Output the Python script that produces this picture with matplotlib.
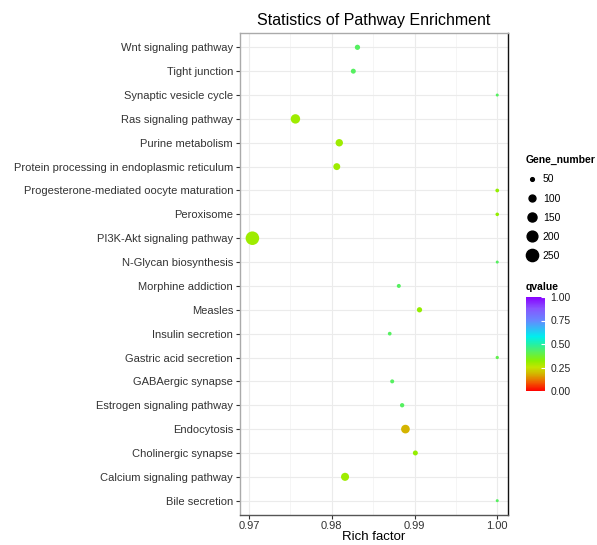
import matplotlib
matplotlib.use('Agg')
import matplotlib.pyplot as plt
import numpy as np
from matplotlib.colors import LinearSegmentedColormap, Normalize
from matplotlib.lines import Line2D

plt.rcParams['font.family'] = ['Liberation Sans', 'DejaVu Sans']

# pathways listed top to bottom
pathways = ['Wnt signaling pathway', 'Tight junction', 'Synaptic vesicle cycle',
            'Ras signaling pathway', 'Purine metabolism',
            'Protein processing in endoplasmic reticulum',
            'Progesterone-mediated oocyte maturation', 'Peroxisome',
            'PI3K-Akt signaling pathway', 'N-Glycan biosynthesis',
            'Morphine addiction', 'Measles', 'Insulin secretion',
            'Gastric acid secretion', 'GABAergic synapse',
            'Estrogen signaling pathway', 'Endocytosis', 'Cholinergic synapse',
            'Calcium signaling pathway', 'Bile secretion']
rich_factor = [0.9831, 0.9826, 1.0, 0.9756, 0.9809, 0.9806, 1.0, 1.0, 0.9704, 1.0,
               0.9881, 0.9906, 0.9870, 1.0, 0.9873, 0.9885, 0.9889, 0.9901,
               0.9816, 1.0]
gene_number = [70, 66, 40, 160, 110, 100, 50, 48, 300, 37,
               53, 70, 50, 45, 53, 57, 140, 66, 125, 40]
qvalue = [0.42, 0.42, 0.42, 0.30, 0.30, 0.30, 0.31, 0.31, 0.30, 0.42,
          0.42, 0.31, 0.42, 0.40, 0.42, 0.42, 0.18, 0.31, 0.30, 0.42]
size_breaks = [50, 100, 150, 200, 250]

cmap = LinearSegmentedColormap.from_list('rb', [
    (0.00, '#FF0000'), (0.10, '#EE6600'), (0.18, '#D4B400'), (0.25, '#C4E400'),
    (0.32, '#8CF000'), (0.42, '#55F060'), (0.50, '#22F0A8'), (0.58, '#00EEEE'),
    (0.75, '#6688FF'), (0.88, '#8855FF'), (1.00, '#8800FF')])
norm = Normalize(0, 1)


def point_size(v):
    # area grows linearly with gene count; diameter in pixels -> points^2
    d = np.sqrt(np.maximum(0.68 * np.asarray(v, float) - 20, 9))
    return (d * 0.72) ** 2


fig = plt.figure(figsize=(5.97, 5.45), dpi=100)
ax = fig.add_axes([240 / 597, 1 - 515 / 545, 268 / 597, 482 / 545])

ypos = np.arange(len(pathways))[::-1]
ax.scatter(rich_factor, ypos, s=point_size(gene_number), c=qvalue, cmap=cmap,
           norm=norm, linewidths=0, zorder=3)

ax.set_xlim(0.9689, 1.0013)
ax.set_ylim(-0.6, len(pathways) - 0.4)
ax.set_xticks([0.97, 0.98, 0.99, 1.00])
ax.set_xticklabels(['0.97', '0.98', '0.99', '1.00'])
ax.set_xticks([0.975, 0.985, 0.995], minor=True)
ax.set_yticks(ypos)
ax.set_yticklabels(pathways)
ax.grid(True, which='major', color='#EBEBEB', linewidth=0.8, zorder=0)
ax.grid(True, which='minor', axis='x', color='#F4F4F4', linewidth=0.6, zorder=0)
ax.tick_params(axis='both', which='major', labelsize=8.05, labelcolor='#333333',
               color='#333333', length=3, width=0.8, pad=2)
ax.tick_params(axis='x', which='major', pad=1)
ax.tick_params(axis='x', which='minor', length=0)
for side, col in [('left', '#AAAAAA'), ('top', '#AAAAAA'),
                  ('right', '#111111'), ('bottom', '#555555')]:
    ax.spines[side].set_color(col)
    ax.spines[side].set_linewidth(1.0)

ax.set_xlabel('Rich factor', fontsize=9.5, labelpad=0)
ax.set_title('Statistics of Pathway Enrichment', fontsize=11.5, pad=6)

# size legend
handles = [Line2D([], [], linestyle='none', marker='o', color='black',
                  markersize=np.sqrt(point_size(b))) for b in size_breaks]
leg = fig.legend(handles, [str(b) for b in size_breaks], title='Gene_number',
                 loc='upper left', bbox_to_anchor=(521 / 597, 1 - 151 / 545),
                 frameon=False, fontsize=7.5, labelspacing=0.88,
                 handletextpad=0.3, handlelength=1.4, alignment='left',
                 borderaxespad=0)
leg.get_title().set_fontweight('bold')
leg.get_title().set_fontsize(7.5)

# qvalue colour bar
cax = fig.add_axes([526 / 597, 1 - 391 / 545, 19 / 597, 94 / 545])
sm = plt.cm.ScalarMappable(norm=norm, cmap=cmap)
cb = fig.colorbar(sm, cax=cax, ticks=[0, 0.25, 0.5, 0.75, 1.0])
cb.ax.set_yticklabels(['0.00', '0.25', '0.50', '0.75', '1.00'])
cb.outline.set_visible(False)
cb.ax.tick_params(labelsize=7.5, color='white', length=3, width=0.8,
                  direction='in', pad=4, labelcolor='#222222')
cax.set_title('qvalue', fontsize=7.5, fontweight='bold', loc='left', pad=5)

fig.savefig('out.png', dpi=100)
